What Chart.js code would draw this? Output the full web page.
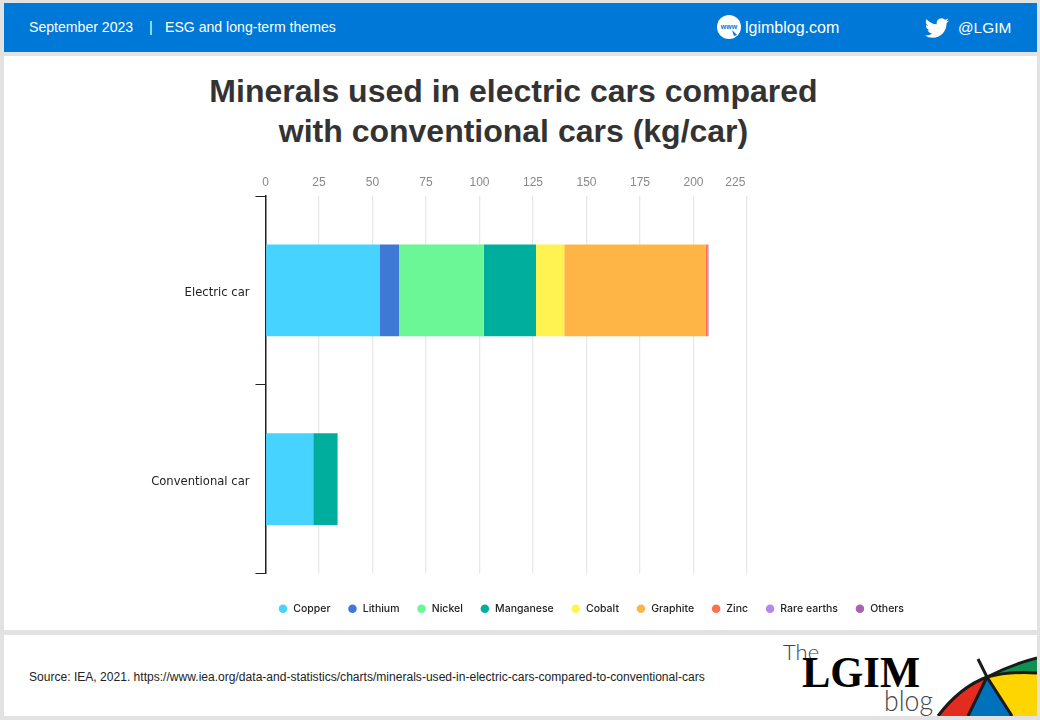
<!DOCTYPE html>
<html>
<head>
<meta charset="utf-8">
<title>Minerals used in electric cars</title>
<script src="https://cdn.jsdelivr.net/npm/chart.js@4"></script>
<style>
  html, body { margin: 0; padding: 0; }
  body { width: 1040px; height: 720px; background: #e2e2e2; position: relative; overflow: hidden; font-family: "Liberation Sans", Arial, sans-serif; }
  .box { position: absolute; }
  .line { position: absolute; white-space: nowrap; }
  #head { left: 4px; top: 3px; width: 1033px; height: 49px; background: #0078d7; }
  #main { left: 4px; top: 56px; width: 1033px; height: 574px; background: #fff; }
  #foot { left: 4px; top: 635px; width: 1033px; height: 81px; background: #fff; overflow: hidden; }
  .headText { top: 19px; color: #fff; font-size: 14.1px; }
  #site { left: 745px; top: 19px; color: #fff; font-size: 16px; }
  #handle { left: 958px; top: 19px; color: #fff; font-size: 15.4px; }
  #title { left: 4px; width: 1019px; top: 70.5px; text-align: center; color: #333; font-size: 32px; line-height: 40px; font-weight: bold; }
  #source { left: 29px; top: 670px; color: #222; font-size: 12.07px; }
  #chartWrap { position: absolute; left: 145px; top: 170px; width: 892px; height: 460px; }
</style>
</head>
<body>
<div class="box" id="head"></div>
<div class="box" id="main"></div>
<div class="box" id="foot"></div>

<div class="line headText" style="left:29px">September 2023</div>
<div class="line headText" style="left:149px">|</div>
<div class="line headText" style="left:165px">ESG and long-term themes</div>
<svg class="box" style="left:717px;top:15px" width="24" height="24" viewBox="0 0 24 24">
  <circle cx="12" cy="12" r="12" fill="#fff"/>
  <text x="12" y="14" font-size="7" font-weight="bold" text-anchor="middle" fill="#0078d7" font-family="Liberation Sans">www</text>
  <path d="M15 15 L20 20 L17 21 Z" fill="#0078d7"/>
</svg>
<div class="line" id="site">lgimblog.com</div>
<svg class="box" style="left:925px;top:16px" width="24" height="24" viewBox="0 0 24 24">
  <path fill="#fff" d="M23.95 4.57a10 10 0 0 1-2.82.77 4.96 4.96 0 0 0 2.16-2.72c-.95.55-2 .96-3.13 1.2a4.92 4.92 0 0 0-8.38 4.48C7.69 8.1 4.07 6.13 1.64 3.16a4.92 4.92 0 0 0 1.52 6.57 4.9 4.9 0 0 1-2.23-.61v.06a4.92 4.92 0 0 0 3.95 4.83 5 5 0 0 1-2.21.08 4.94 4.94 0 0 0 4.6 3.42A9.87 9.87 0 0 1 0 19.54a14 14 0 0 0 7.56 2.21c9.05 0 14-7.5 14-13.98 0-.21 0-.42-.02-.63a9.94 9.94 0 0 0 2.46-2.55z"/>
</svg>
<div class="line" id="handle">@LGIM</div>

<div class="line" id="title">Minerals used in electric cars compared<br>with conventional cars (kg/car)</div>
<div id="chartWrap"><canvas id="chart"></canvas></div>

<div class="line" id="source">Source: IEA, 2021. https://www.iea.org/data-and-statistics/charts/minerals-used-in-electric-cars-compared-to-conventional-cars</div>

<svg class="box" style="left:760px;top:635px" width="277" height="81" viewBox="0 0 277 81">
  <text x="23" y="25" font-size="22" fill="#444" font-family="Lato" font-weight="300">The</text>
  <text x="42" y="52" font-size="44" fill="#000" font-family="Liberation Serif" font-weight="bold" textLength="118" lengthAdjust="spacingAndGlyphs">LGIM</text>
  <text x="124" y="76" font-size="30" fill="#444" font-family="Lato" font-weight="300" textLength="49" lengthAdjust="spacingAndGlyphs">blog</text>
  <path d="M178 81 Q200 52 227 42 L208 81 Z" fill="#e32b20"/>
  <path d="M208 81 L227 42 L252 81 Z" fill="#0072bc"/>
  <path d="M227 42 Q250 36 277 38 L277 81 L252 81 Z" fill="#ffd500"/>
  <path d="M227 42 Q250 30 277 23 L277 38 Q250 36 227 42 Z" fill="#0f9150"/>
  <g fill="none" stroke="#1a1a1a" stroke-width="3">
    <path d="M178 81 Q200 52 227 42 Q250 30 277 23"/>
    <path d="M218 24 L227 42 L208 81"/>
    <path d="M227 42 L252 81"/>
    <path d="M227 42 Q250 36 277 38"/>
  </g>
</svg>

<script>
var categories = ["Electric car", "Conventional car"];
var minerals = ["Copper", "Lithium", "Nickel", "Manganese", "Cobalt", "Graphite", "Zinc", "Rare earths", "Others"];
var mineralColors = ["#47d3ff", "#3e79d6", "#6bf796", "#00ae9e", "#fff351", "#ffb545", "#ff7048", "#b088ee", "#a763b0"];

var copper = [53.5, 22.3];
var lithium = [8.9, 0];
var nickel = [39.6, 0];
var manganese = [24.4, 11.2];
var cobalt = [13.2, 0];
var graphite = [66, 0];
var zinc = [0.8, 0.3];
var rareEarths = [0.4, 0];
var others = [0.2, 0];
var tickValues = [0, 25, 50, 75, 100, 125, 150, 175, 200, 225];

var seriesValues = [copper, lithium, nickel, manganese, cobalt, graphite, zinc, rareEarths, others];

var datasets = minerals.map(function (name, i) {
  return {
    label: name,
    data: seriesValues[i],
    backgroundColor: mineralColors[i],
    borderWidth: 0,
    barPercentage: 0.487,
    categoryPercentage: 1
  };
});

var chart = new Chart(document.getElementById("chart").getContext("2d"), {
  type: "bar",
  data: { labels: categories, datasets: datasets },
  options: {
    indexAxis: "y",
    responsive: true,
    maintainAspectRatio: false,
    animation: false,
    layout: { padding: { left: 0, right: 0, top: 0, bottom: 6 } },
    scales: {
      x: {
        position: "top",
        stacked: true,
        min: 0,
        max: 225,
        afterBuildTicks: function (axis) {
          axis.ticks = tickValues.map(function (v) { return { value: v }; });
        },
        afterFit: function (axis) { axis.height = 26; },
        border: { display: false },
        grid: { color: "#e8e8e8", lineWidth: 1.3, drawTicks: false },
        ticks: {
          color: "#888",
          font: { family: "Liberation Sans", size: 12 },
          padding: 6,
          maxRotation: 0,
          autoSkip: false,
          callback: function (v) {
            // last label sits left of its gridline in the original
            return v === 225 ? "225       " : String(v);
          }
        }
      },
      y: {
        stacked: true,
        afterFit: function (axis) { axis.width = 120.5; },
        border: { display: true, color: "#222", width: 1.5 },
        grid: { drawOnChartArea: false, drawTicks: true, tickLength: 10, color: "#222", lineWidth: 1 },
        ticks: {
          color: "#222",
          font: { family: "DejaVu Sans", size: 11.6 },
          padding: 6,
          labelOffset: 3
        }
      },
      // empty axes, only keep the plot clear of the legend row
      spacerRight: {
        type: "linear",
        axis: "y",
        position: "right",
        afterFit: function (axis) { axis.width = 290; },
        border: { display: false },
        grid: { display: false },
        ticks: { display: false }
      },
      spacerBottom: {
        type: "linear",
        axis: "x",
        position: "bottom",
        afterFit: function (axis) { axis.height = 13; },
        border: { display: false },
        grid: { display: false },
        ticks: { display: false }
      }
    },
    plugins: {
      tooltip: { enabled: false },
      legend: {
        position: "bottom",
        labels: {
          usePointStyle: true,
          pointStyle: "circle",
          boxHeight: 6,
          boxWidth: 10,
          padding: 17,
          color: "#222",
          font: { family: "Inter", size: 10.5, weight: "500" }
        }
      }
    }
  }
});
</script>
</body>
</html>
